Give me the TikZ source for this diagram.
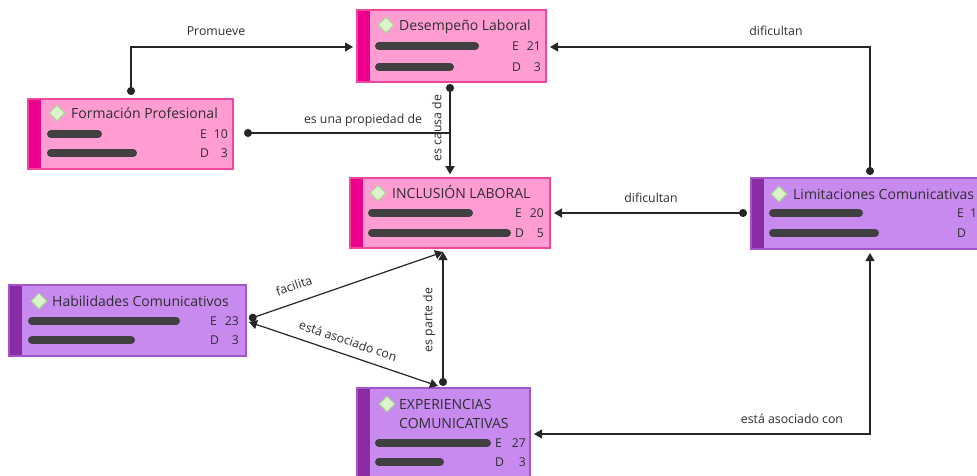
\documentclass[tikz,border=0pt]{standalone}
\usepackage{fontspec}
\setmainfont{Open Sans}
\usetikzlibrary{arrows.meta,calc,shapes.geometric}
\definecolor{pinkfill}{HTML}{FF9DD3}
\definecolor{pinkedge}{HTML}{F0479E}
\definecolor{pinkdark}{HTML}{EC008C}
\definecolor{purpfill}{HTML}{C98AF0}
\definecolor{purpedge}{HTML}{A356CC}
\definecolor{purpdark}{HTML}{8A2CA5}
\definecolor{txt}{HTML}{2E2E2E}
\definecolor{barc}{HTML}{404040}
\definecolor{linec}{HTML}{262626}
\definecolor{diafill}{HTML}{DCF3CC}
\definecolor{diaedge}{HTML}{A6D68C}
\tikzset{
 codebox/.style={rectangle, anchor=north west, inner sep=0pt, outer sep=0pt},
 pinkbox/.style={codebox, fill=pinkfill},
 purpbox/.style={codebox, fill=purpfill},
 pinkrim/.style={draw=pinkedge, line width=1.2pt},
 purprim/.style={draw=purpedge, line width=1.2pt},
 gem/.style={diamond, draw=diaedge, fill=diafill, line width=1pt, minimum width=16pt, minimum height=16pt, inner sep=0pt},
 ttl/.style={anchor=west, inner sep=0pt, text=txt, font=\fontsize{14}{16}\selectfont, text height=10pt, text depth=0pt},
 cnt/.style={inner sep=0pt, text=txt, font=\fontsize{12.2}{14}\selectfont, text height=8.8pt, text depth=0pt},
 bar/.style={draw=barc, line width=8pt, line cap=round},
 conn/.style={draw=linec, line width=1.2pt},
 lbl/.style={inner sep=0pt, text=txt, font=\fontsize{12.3}{14}\selectfont, text height=8.8pt, text depth=0pt},
 dotarr/.style={arrows={Circle[length=8pt]-Triangle[length=8pt,width=9pt]}},
 bothar/.style={arrows={Triangle[length=8pt,width=9pt]-Triangle[length=8pt,width=9pt]}},
}
\begin{document}
\begin{tikzpicture}[x=1pt,y=-1pt]
\useasboundingbox (0,0) rectangle (977,475);
\clip (0,0) rectangle (977,475);
\fill[white] (0,0) rectangle (977,475);

% ---------- Desempeño Laboral
\node[pinkbox, minimum width=189pt, minimum height=72pt] (desemp) at (357,10) {};
\fill[pinkdark] (desemp.north west) rectangle ($(desemp.south west)+(13,0)$);
\draw[pinkrim] (desemp.north west) rectangle (desemp.south east);
\node[gem] (desempg) at ($(desemp.north west)+(29,15)$) {};
\node[ttl] (desempt) at ($(desemp.north west)+(42,15)$) {Desempeño Laboral};
\draw[bar] ($(desemp.north west)+(22,36)$) -- ++(96,0);
\draw[bar] ($(desemp.north west)+(22,57)$) -- ++(71,0);
\node[cnt, anchor=west] (desempe) at ($(desemp.north east)+(-34,36)$) {E};
\node[cnt, anchor=east] (desempen) at ($(desemp.north east)+(-5,36)$) {21};
\node[cnt, anchor=west] (desempd) at ($(desemp.north east)+(-34,57)$) {D};
\node[cnt, anchor=east] (desempdn) at ($(desemp.north east)+(-5,57)$) {3};

% ---------- Formación Profesional
\node[pinkbox, minimum width=205pt, minimum height=70pt] (form) at (28,99) {};
\fill[pinkdark] (form.north west) rectangle ($(form.south west)+(13,0)$);
\draw[pinkrim] (form.north west) rectangle (form.south east);
\node[gem] (formg) at ($(form.north west)+(29,14)$) {};
\node[ttl] (formt) at ($(form.north west)+(43,14)$) {Formación Profesional};
\draw[bar] ($(form.north west)+(23,35)$) -- ++(47,0);
\draw[bar] ($(form.north west)+(23,54)$) -- ++(82,0);
\node[cnt, anchor=west] (forme) at ($(form.north east)+(-33,35)$) {E};
\node[cnt, anchor=east] (formen) at ($(form.north east)+(-5,35)$) {10};
\node[cnt, anchor=west] (formd) at ($(form.north east)+(-33,54)$) {D};
\node[cnt, anchor=east] (formdn) at ($(form.north east)+(-5,54)$) {3};

% ---------- INCLUSIÓN LABORAL
\node[pinkbox, minimum width=200pt, minimum height=70pt] (incl) at (350,178) {};
\fill[pinkdark] (incl.north west) rectangle ($(incl.south west)+(13,0)$);
\draw[pinkrim] (incl.north west) rectangle (incl.south east);
\node[gem] (inclg) at ($(incl.north west)+(28,15)$) {};
\node[ttl] (inclt) at ($(incl.north west)+(42,15)$) {INCLUSIÓN LABORAL};
\draw[bar] ($(incl.north west)+(22,35)$) -- ++(97,0);
\draw[bar] ($(incl.north west)+(22,55)$) -- ++(135,0);
\node[cnt, anchor=west] (incle) at ($(incl.north east)+(-35,35)$) {E};
\node[cnt, anchor=east] (inclen) at ($(incl.north east)+(-6,35)$) {20};
\node[cnt, anchor=west] (incld) at ($(incl.north east)+(-35,55)$) {D};
\node[cnt, anchor=east] (incldn) at ($(incl.north east)+(-6,55)$) {5};

% ---------- Limitaciones Comunicativas
\node[purpbox, minimum width=245pt, minimum height=71pt] (limit) at (751,178) {};
\fill[purpdark] (limit.north west) rectangle ($(limit.south west)+(13,0)$);
\draw[purprim] (limit.north west) rectangle (limit.south east);
\node[gem] (limitg) at ($(limit.north west)+(28,16)$) {};
\node[ttl] (limitt) at ($(limit.north west)+(42,16)$) {Limitaciones Comunicativas};
\draw[bar] ($(limit.north west)+(22,35)$) -- ++(86,0);
\draw[bar] ($(limit.north west)+(22,55)$) -- ++(102,0);
\node[cnt, anchor=west] (limite) at ($(limit.north west)+(206,35)$) {E};
\node[cnt, anchor=west] (limiten) at ($(limit.north west)+(219,35)$) {1};
\node[cnt, anchor=west] (limitd) at ($(limit.north west)+(206,55)$) {D};

% ---------- Habilidades Comunicativos
\node[purpbox, minimum width=237pt, minimum height=71pt] (habil) at (9,285) {};
\fill[purpdark] (habil.north west) rectangle ($(habil.south west)+(13,0)$);
\draw[purprim] (habil.north west) rectangle (habil.south east);
\node[gem] (habilg) at ($(habil.north west)+(30,16)$) {};
\node[ttl] (habilt) at ($(habil.north west)+(43,16)$) {Habilidades Comunicativos};
\draw[bar] ($(habil.north west)+(23,36)$) -- ++(144,0);
\draw[bar] ($(habil.north west)+(23,55)$) -- ++(99,0);
\node[cnt, anchor=west] (habile) at ($(habil.north east)+(-36,36)$) {E};
\node[cnt, anchor=east] (habilen) at ($(habil.north east)+(-7,36)$) {23};
\node[cnt, anchor=west] (habild) at ($(habil.north east)+(-36,55)$) {D};
\node[cnt, anchor=east] (habildn) at ($(habil.north east)+(-7,55)$) {3};

% ---------- EXPERIENCIAS COMUNICATIVAS
\node[purpbox, minimum width=173pt, minimum height=100pt] (exper) at (357,388) {};
\fill[purpdark] (exper.north west) rectangle ($(exper.south west)+(13,0)$);
\draw[purprim] (exper.north west) rectangle (exper.south east);
\node[gem] (experg) at ($(exper.north west)+(30,16)$) {};
\node[anchor=base west, inner sep=0pt, text=txt, font=\fontsize{14}{19}\selectfont, align=left] (expert) at ($(exper.north west)+(42,40)$) {EXPERIENCIAS\\COMUNICATIVAS};
\draw[bar] ($(exper.north west)+(22,55)$) -- ++(108,0);
\draw[bar] ($(exper.north west)+(22,74)$) -- ++(61,0);
\node[cnt, anchor=west] (expere) at ($(exper.north east)+(-35,55)$) {E};
\node[cnt, anchor=east] (experen) at ($(exper.north east)+(-4,55)$) {27};
\node[cnt, anchor=west] (experd) at ($(exper.north east)+(-35,74)$) {D};
\node[cnt, anchor=east] (experdn) at ($(exper.north east)+(-4,74)$) {3};

% ---------- connectors
\draw[conn, dotarr] ($(form.north west)+(103,-4)$) |- ($(desemp.north west)+(-4,37)$);
\draw[conn, dotarr] ($(form.north east)+(11,34)$) -| ($(incl.north west)+(100,-4)$);
\draw[conn, dotarr] ($(desemp.south west)+(93,2)$) -- ($(incl.north west)+(100,-4)$);
\draw[conn, dotarr] ($(limit.north west)+(-4,35)$) -- ($(incl.north east)+(4,35)$);
\draw[conn, dotarr] ($(limit.north west)+(119,-3)$) |- ($(desemp.north east)+(4,37)$);
\draw[conn, bothar] ($(exper.north east)+(4,46)$) -| ($(limit.south west)+(119,4)$);
\draw[conn, dotarr] ($(habil.north east)+(3,34)$) -- ($(incl.south west)+(93,4)$);
\draw[conn, bothar] ($(habil.north east)+(3,37)$) -- ($(exper.north west)+(81,-2)$);
\draw[conn, dotarr] ($(exper.north west)+(86,-2)$) -- ($(incl.south west)+(93,4)$);

% ---------- connector labels
\node[lbl] (lprom) at ($(desemp.north west)+(-141,21)$) {Promueve};
\node[lbl] (lprop) at ($(form.north east)+(130,20)$) {es una propiedad de};
\node[lbl, rotate=90] (lcausa) at ($(desemp.south west)+(80,46)$) {es causa de};
\node[lbl] (ldif1) at ($(incl.north east)+(101,20)$) {dificultan};
\node[lbl] (ldif2) at ($(desemp.north east)+(230,21)$) {dificultan};
\node[lbl] (lasoc1) at ($(exper.north east)+(262,31)$) {está asociado con};
\node[lbl, rotate=19] (lfac) at ($(habil.north east)+(48,1)$) {facilita};
\node[lbl, rotate=-18.7] (lasoc2) at ($(habil.north east)+(102,56)$) {está asociado con};
\node[lbl, rotate=90] (lparte) at ($(exper.north west)+(71,-68)$) {es parte de};
\end{tikzpicture}
\end{document}
